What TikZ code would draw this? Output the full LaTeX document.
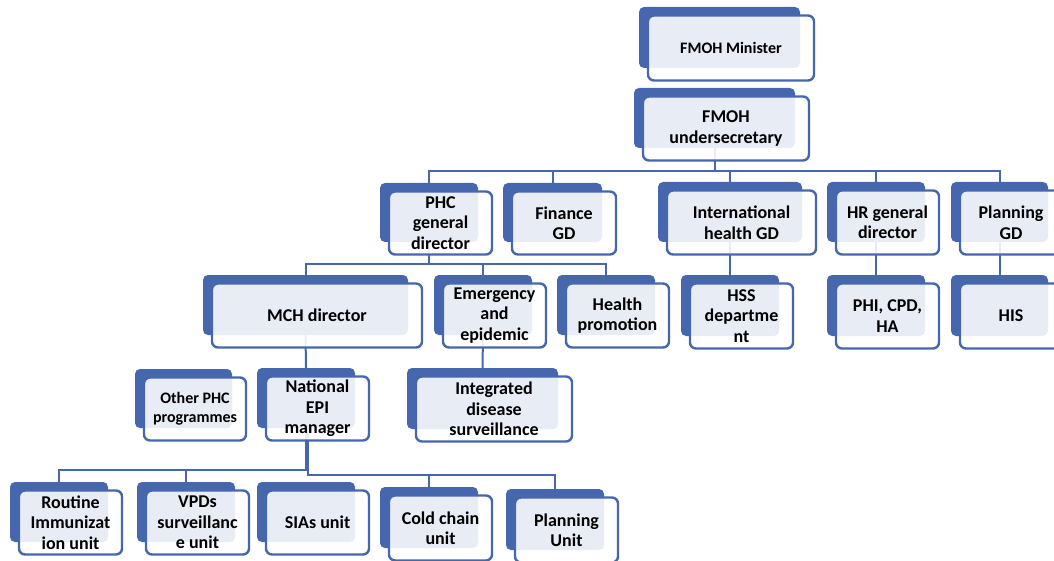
\documentclass[tikz,border=0pt]{standalone}
\usepackage{fontspec}
\setmainfont{Carlito}
\pgfdeclarelayer{background}
\pgfsetlayers{background,main}
\definecolor{orgblue}{RGB}{70,102,174}
\tikzset{
  backbox/.style={fill=orgblue, rounded corners=5pt, inner sep=0pt},
  frontbox/.style={draw=orgblue, line width=2.4pt, fill=white, fill opacity=0.88, text opacity=1,
    rounded corners=6pt, inner sep=0pt, align=center, font=\bfseries\fontsize{18}{20.5}\selectfont},
  smalltext/.style={font=\bfseries\fontsize{16}{19}\selectfont},
  link/.style={draw=orgblue, line width=2pt},
}
% unit: back box (named) and front box with the text
\newcommand{\orgunit}[7][]{%
  \node[backbox, minimum width=#5pt, minimum height=#6pt] (#2) at (#3,#4) {};
  \node[frontbox, minimum width=#5pt+5pt, minimum height=#6pt+4pt, xshift=11.5pt, yshift=-10.5pt, #1] (#2-txt) at (#2) {#7};
}
\begin{document}
\begin{tikzpicture}[x=1pt,y=-1pt]
\useasboundingbox (0,0) rectangle (1054,561);
\clip (0,0) rectangle (1054,561);

% top
\orgunit[smalltext]{min}{719.5}{37.5}{161}{61}{FMOH Minister}
\orgunit{under}{714.5}{118}{161}{60}{FMOH\\undersecretary}

% general directorates
\orgunit{phc}{429}{212.5}{98}{59}{PHC\\general\\director}
\orgunit{fin}{552.5}{212.5}{99}{59}{Finance\\GD}
\orgunit{intl}{730}{212}{144}{60}{International\\health GD}
\orgunit{hr}{876}{212}{98}{60}{HR general\\director}
\orgunit{plan}{999.5}{212}{97}{60}{Planning\\GD}

% directorates
\orgunit{mch}{305.5}{305}{205}{60}{MCH director}
\orgunit{emer}{483}{305}{98}{60}{Emergency\\and\\epidemic}
\orgunit{hp}{606}{305}{98}{60}{Health\\promotion}
\orgunit{hss}{730}{305.5}{98}{61}{HSS\\departme\\nt}
\orgunit{phi}{876}{305.5}{98}{61}{PHI, CPD,\\HA}
\orgunit{his}{999.5}{305.5}{97}{61}{HIS}

% programmes
\orgunit[smalltext]{other}{183.5}{398.5}{97}{59}{Other PHC\\programmes}
\orgunit{epi}{306}{398}{98}{60}{National\\EPI\\manager}
\orgunit{ids}{482.5}{398.5}{151}{61}{Integrated\\disease\\surveillance}

% EPI units
\orgunit{ri}{59}{512}{98}{60}{Routine\\Immunizat\\ion unit}
\orgunit{vpd}{186}{512}{98}{60}{VPDs\\surveillanc\\e unit}
\orgunit{sia}{306}{512}{98}{60}{SIAs unit}
\orgunit{cold}{429}{517.5}{98}{61}{Cold chain\\unit}
\orgunit{planu}{555}{519.5}{98}{61}{Planning\\Unit}

% Connection
\begin{pgfonlayer}{background}
\foreach \c in {phc,fin,intl,hr,plan}
  \draw[link] (under.south) -- ++(0,23) -| (\c.north);
\foreach \c in {mch,emer,hp}
  \draw[link] (phc.south) -- ++(0,22) -| (\c.north);
\draw[link] (intl.south) -- (hss.north);
\draw[link] (hr.south) -- (phi.north);
\draw[link] (plan.south) -- (his.north);
\draw[link] (mch.south) -- (epi.north);
\draw[link] (emer.south) -- (ids.north);
\foreach \c in {ri,vpd}
  \draw[link] (epi.south) -- ++(0,42) -| (\c.north);
\foreach \c in {cold,planu}
  \draw[link] ([xshift=2pt]epi.south) -- ++(0,47) -| (\c.north);
\end{pgfonlayer}

\end{tikzpicture}
\end{document}
